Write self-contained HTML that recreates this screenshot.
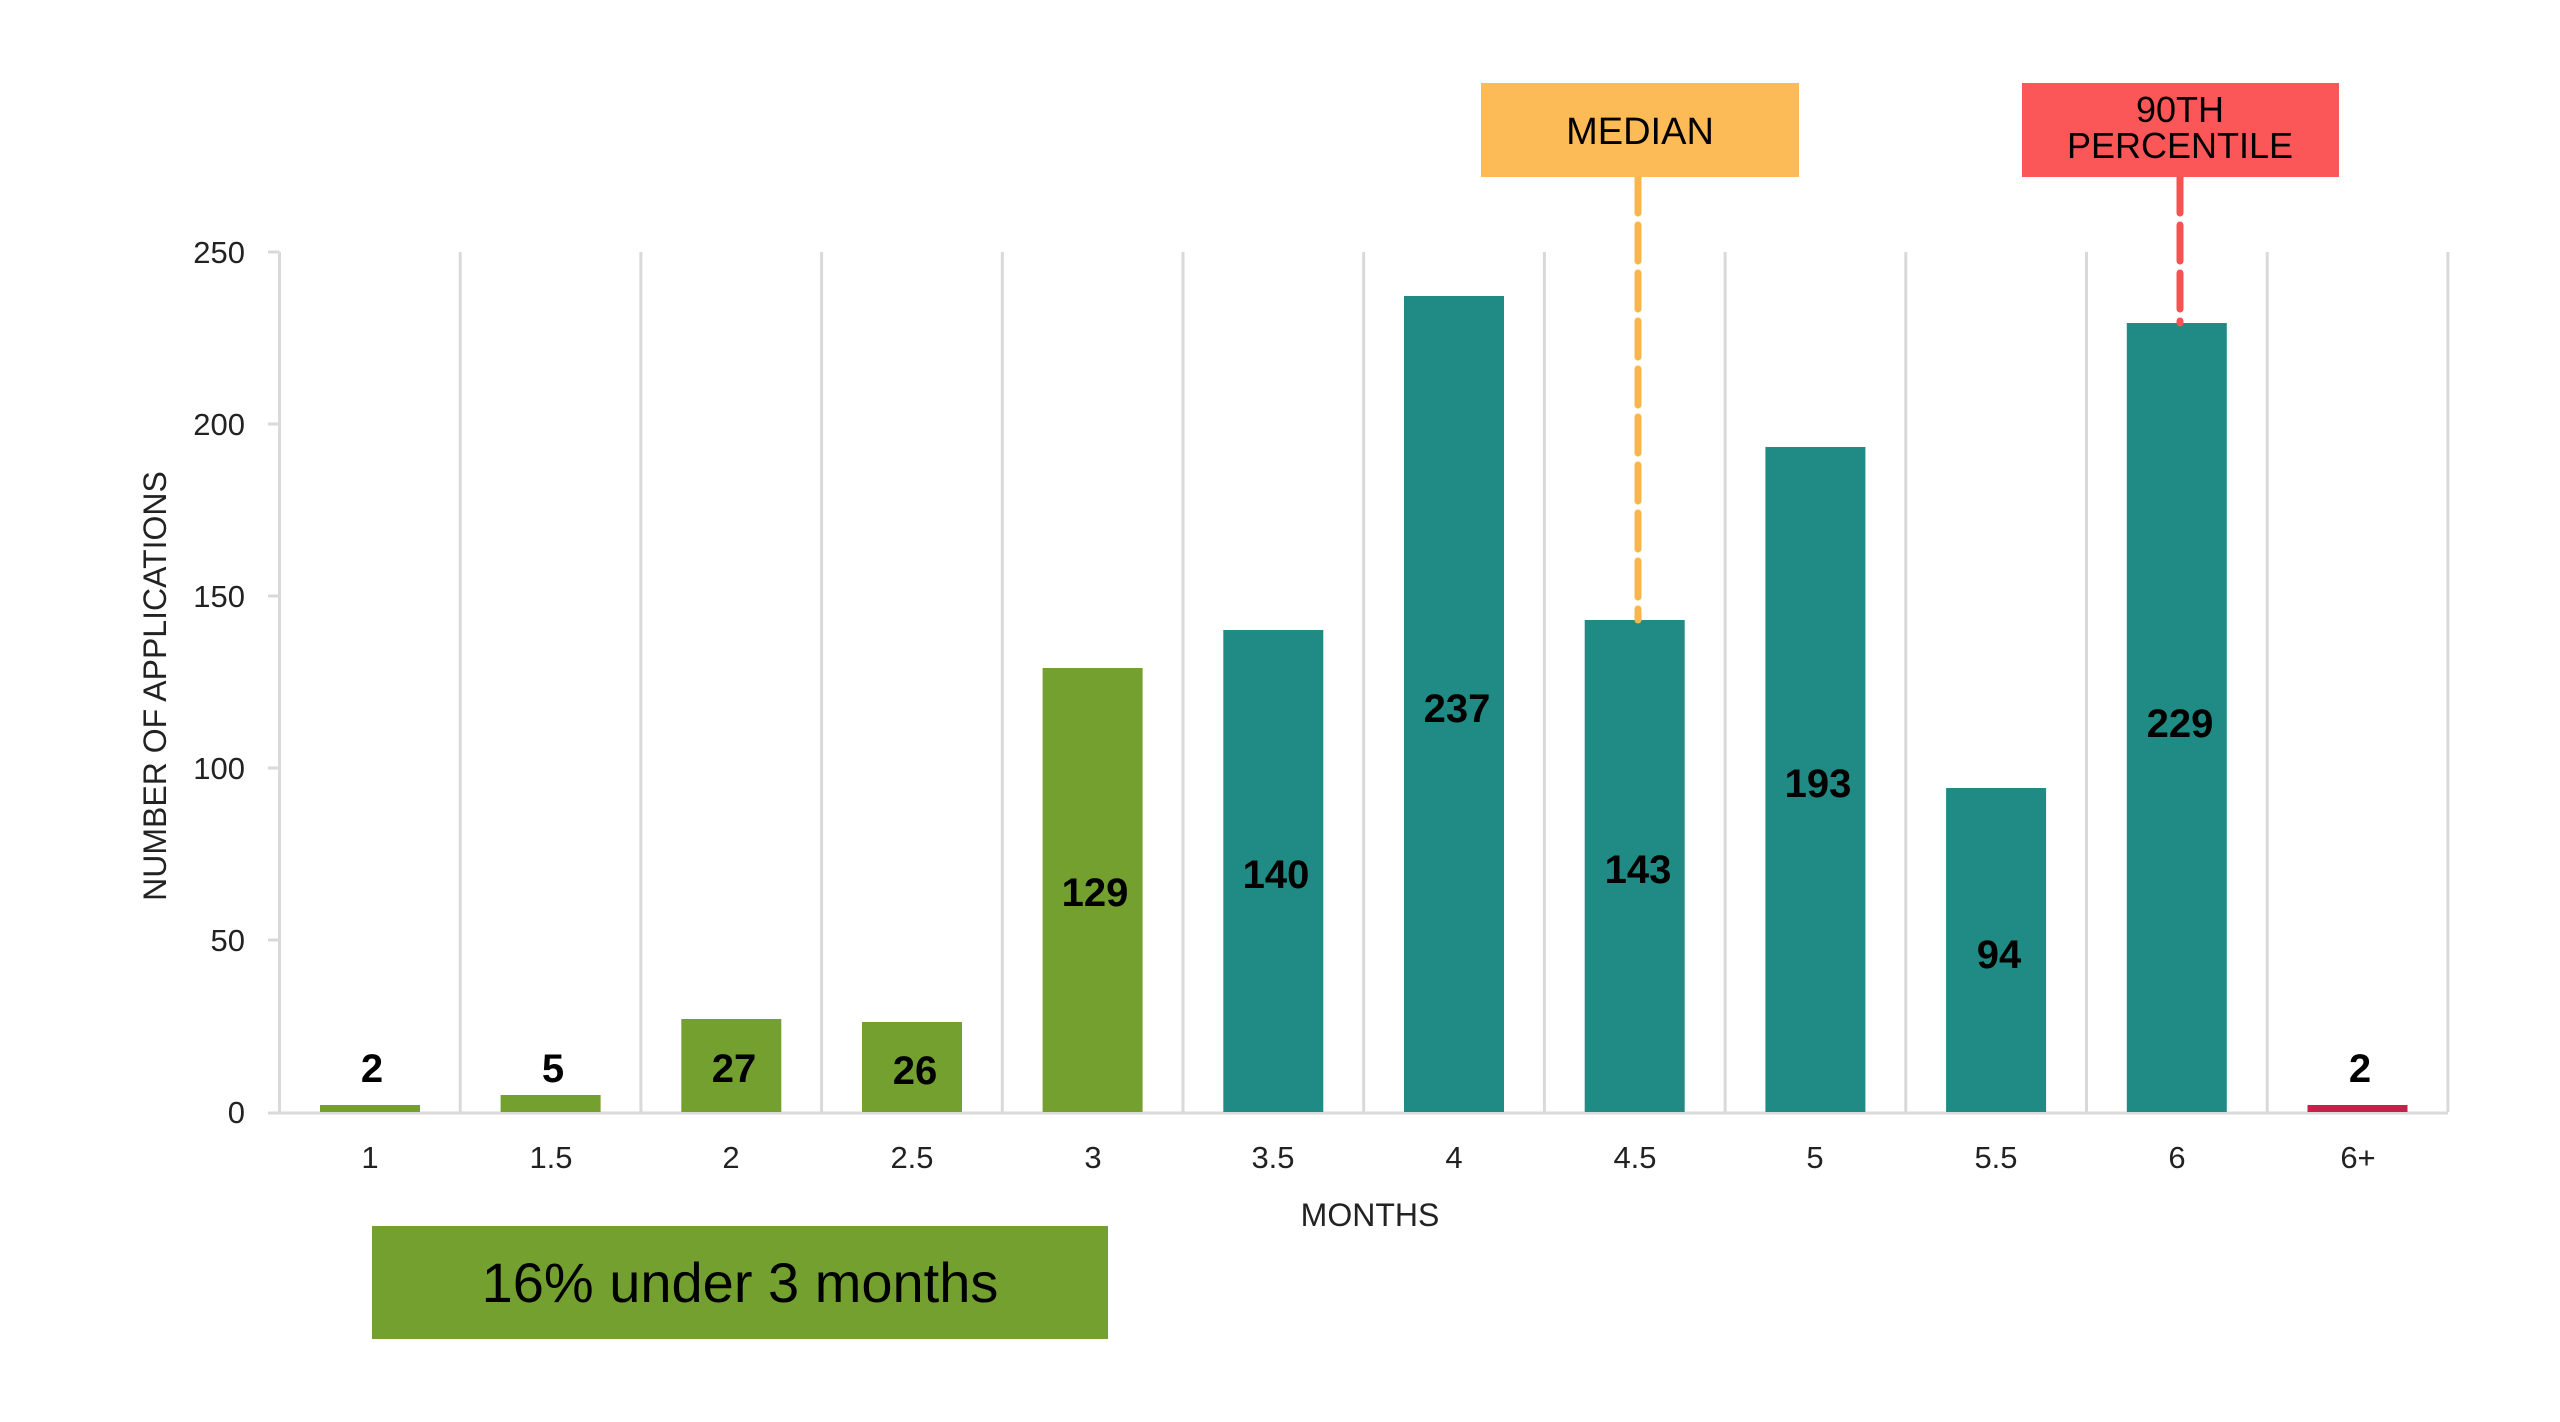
<!DOCTYPE html>
<html><head><meta charset="utf-8"><style>
html,body{margin:0;padding:0;background:#fff;}
svg{display:block;font-family:"Liberation Sans",sans-serif;}
</style></head><body>
<svg width="2560" height="1422" viewBox="0 0 2560 1422" xmlns="http://www.w3.org/2000/svg">
<rect width="2560" height="1422" fill="#fff"/>
<g stroke="#d9d9d9" stroke-width="3">
<line x1="279.5" y1="252" x2="279.5" y2="1112"/>
<line x1="460.2" y1="252" x2="460.2" y2="1112"/>
<line x1="640.9" y1="252" x2="640.9" y2="1112"/>
<line x1="821.6" y1="252" x2="821.6" y2="1112"/>
<line x1="1002.3" y1="252" x2="1002.3" y2="1112"/>
<line x1="1183" y1="252" x2="1183" y2="1112"/>
<line x1="1363.7" y1="252" x2="1363.7" y2="1112"/>
<line x1="1544.4" y1="252" x2="1544.4" y2="1112"/>
<line x1="1725.1" y1="252" x2="1725.1" y2="1112"/>
<line x1="1905.8" y1="252" x2="1905.8" y2="1112"/>
<line x1="2086.5" y1="252" x2="2086.5" y2="1112"/>
<line x1="2267.2" y1="252" x2="2267.2" y2="1112"/>
<line x1="2447.9" y1="252" x2="2447.9" y2="1112"/>
<line x1="268" y1="1113" x2="2448" y2="1113"/>
<line x1="268" y1="252" x2="279.5" y2="252"/>
<line x1="268" y1="424" x2="279.5" y2="424"/>
<line x1="268" y1="596" x2="279.5" y2="596"/>
<line x1="268" y1="768" x2="279.5" y2="768"/>
<line x1="268" y1="940" x2="279.5" y2="940"/>
</g>
<g font-size="31" fill="#222" text-anchor="end">
<text x="245" y="263">250</text>
<text x="245" y="435">200</text>
<text x="245" y="607">150</text>
<text x="245" y="779">100</text>
<text x="245" y="951">50</text>
<text x="245" y="1123">0</text>
</g>
<text transform="translate(166,686) rotate(-90)" font-size="32" fill="#222" text-anchor="middle">NUMBER OF APPLICATIONS</text>
<g>
<rect x="320" y="1105" width="100" height="7" fill="#74a030"/>
<rect x="500.6" y="1095" width="100" height="17" fill="#74a030"/>
<rect x="681.3" y="1019" width="100" height="93" fill="#74a030"/>
<rect x="862" y="1022" width="100" height="90" fill="#74a030"/>
<rect x="1042.6" y="668" width="100" height="444" fill="#74a030"/>
<rect x="1223.3" y="630" width="100" height="482" fill="#208b85"/>
<rect x="1404" y="296" width="100" height="816" fill="#208b85"/>
<rect x="1584.7" y="620" width="100" height="492" fill="#208b85"/>
<rect x="1765.4" y="447" width="100" height="665" fill="#208b85"/>
<rect x="1946.1" y="788" width="100" height="324" fill="#208b85"/>
<rect x="2126.8" y="323" width="100" height="789" fill="#208b85"/>
<rect x="2307.5" y="1105" width="100" height="7" fill="#c8204a"/>
</g>
<g font-size="40" font-weight="bold" fill="#000" text-anchor="middle">
<text x="372" y="1082">2</text>
<text x="553" y="1082">5</text>
<text x="734" y="1082">27</text>
<text x="915" y="1084">26</text>
<text x="1095" y="906">129</text>
<text x="1276" y="888">140</text>
<text x="1457" y="722">237</text>
<text x="1638" y="883">143</text>
<text x="1818" y="797">193</text>
<text x="1999" y="968">94</text>
<text x="2180" y="737">229</text>
<text x="2360" y="1082">2</text>
</g>
<g font-size="31" fill="#222" text-anchor="middle">
<text x="370" y="1168">1</text>
<text x="551" y="1168">1.5</text>
<text x="731" y="1168">2</text>
<text x="912" y="1168">2.5</text>
<text x="1093" y="1168">3</text>
<text x="1273" y="1168">3.5</text>
<text x="1454" y="1168">4</text>
<text x="1635" y="1168">4.5</text>
<text x="1815" y="1168">5</text>
<text x="1996" y="1168">5.5</text>
<text x="2177" y="1168">6</text>
<text x="2358" y="1168">6+</text>
</g>
<text x="1370" y="1226" font-size="32" fill="#222" text-anchor="middle">MONTHS</text>
<line x1="1638" y1="177" x2="1638" y2="620" stroke="#f9b64f" stroke-width="7" stroke-dasharray="36 12" stroke-linecap="round"/>
<rect x="1481" y="83" width="318" height="94" fill="#fdbb57"/>
<text x="1640" y="144" font-size="38" fill="#000" text-anchor="middle">MEDIAN</text>
<line x1="2180" y1="177" x2="2180" y2="323" stroke="#f55252" stroke-width="7" stroke-dasharray="36 12" stroke-linecap="round"/>
<rect x="2022" y="83" width="317" height="94" fill="#fc5758"/>
<text x="2180" y="122" font-size="36" fill="#000" text-anchor="middle">90TH</text>
<text x="2180" y="158" font-size="36" fill="#000" text-anchor="middle">PERCENTILE</text>
<rect x="372" y="1226" width="736" height="113" fill="#74a030"/>
<text x="740" y="1302" font-size="56" fill="#000" text-anchor="middle">16% under 3 months</text>
</svg>
</body></html>
